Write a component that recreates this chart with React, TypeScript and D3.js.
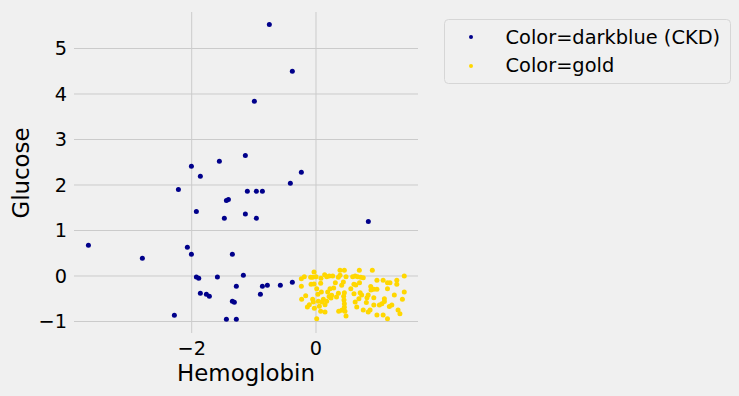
import React from "react";
import * as d3 from "d3";

const xTicks = [-2, 0];
const yTicks = [-1, 0, 1, 2, 3, 4, 5];
const xLabel = "Hemoglobin";
const yLabel = "Glucose";
const legendLabels = ["Color=darkblue (CKD)", "Color=gold"];

// CKD (darkblue) points: [hemoglobin, glucose]
const ckdPoints: [number, number][] = [
  [-0.751, 5.53], [-0.381, 4.5], [-0.992, 3.84], [-1.137, 2.65], [-1.555, 2.52],
  [-2.005, 2.41], [-1.861, 2.19], [-0.236, 2.28], [-0.413, 2.04], [-2.214, 1.9],
  [-1.105, 1.86], [-0.96, 1.86], [-0.863, 1.86], [-1.442, 1.66], [-1.41, 1.68],
  [-1.925, 1.42], [-1.475, 1.27], [-1.137, 1.36], [-0.96, 1.27], [0.842, 1.2],
  [-3.662, 0.674], [-2.794, 0.388], [-2.07, 0.63], [-2.005, 0.476], [-1.346, 0.476],
  [-1.925, -0.022], [-1.887, -0.051], [-1.587, -0.022], [-1.169, 0.015], [-1.282, -0.227],
  [-0.863, -0.227], [-0.783, -0.205], [-0.574, -0.205], [-0.381, -0.139], [-1.861, -0.381],
  [-1.764, -0.403], [-1.716, -0.447], [-0.895, -0.403], [-1.346, -0.557], [-1.314, -0.579],
  [-2.279, -0.864], [-1.442, -0.952], [-1.282, -0.952],
];

// non-CKD (gold) points: [hemoglobin, glucose]
const goldPoints: [number, number][] = [
  [-0.188, -0.015], [-0.236, -0.059], [-0.236, -0.227], [-0.166, -0.432], [-0.231, -0.513],
  [-0.032, 0.088], [-0.086, -0.029], [-0.054, -0.029], [0.0, -0.015], [-0.08, -0.183],
  [-0.032, -0.176], [0.075, -0.161], [0.011, -0.278], [0.139, 0.029], [0.172, -0.015],
  [0.214, 0.0], [0.268, 0.0], [0.386, 0.125], [0.456, 0.125], [0.386, 0.015],
  [0.359, -0.029], [0.483, -0.015], [0.311, -0.147], [0.413, -0.205], [0.44, -0.132],
  [0.086, -0.352], [0.188, -0.352], [0.225, -0.278], [0.284, -0.264], [0.252, -0.425],
  [0.241, -0.484], [0.456, -0.366], [0.445, -0.447], [0.45, -0.527], [0.456, -0.608],
  [0.456, -0.689], [0.466, -0.777], [0.365, -0.777], [0.413, -0.755], [0.483, -0.879],
  [0.011, -0.938], [-0.054, -0.513], [-0.043, -0.571], [-0.107, -0.63], [-0.139, -0.681],
  [0.038, -0.557], [0.097, -0.571], [0.118, -0.513], [0.172, -0.557], [0.145, -0.63],
  [0.075, -0.777], [0.145, -0.791], [0.054, -0.667], [-0.027, -0.71], [0.36, -0.38],
  [0.21, -0.45], [0.03, -0.4], [0.08, -0.05], [0.33, -0.46],
  [0.59, -0.015], [0.63, 0.0], [0.67, -0.015], [0.72, -0.03], [0.76, -0.04],
  [0.697, 0.125], [0.906, 0.125], [0.56, -0.28], [0.61, -0.18], [0.64, -0.2],
  [0.7, -0.15], [0.98, -0.095], [1.08, -0.095], [1.15, -0.15], [1.19, -0.15],
  [1.3, -0.095], [1.3, -0.18], [1.42, 0.0], [0.88, -0.23], [0.885, -0.31],
  [0.93, -0.29], [0.98, -0.29], [1.15, -0.28], [1.42, -0.35], [1.26, -0.42],
  [1.39, -0.51], [0.71, -0.37], [0.735, -0.42], [0.69, -0.5], [0.82, -0.48],
  [0.84, -0.42], [0.93, -0.48], [0.93, -0.64], [1.1, -0.5], [1.1, -0.56],
  [1.06, -0.61], [1.02, -0.64], [1.18, -0.67], [1.22, -0.64], [0.63, -0.57],
  [0.655, -0.68], [0.81, -0.58], [0.76, -0.75], [0.84, -0.79], [0.87, -0.75],
  [0.98, -0.86], [1.08, -0.86], [1.15, -0.94], [1.32, -0.75], [1.35, -0.83],
  [0.611, -0.388],
];

const W = 739;
const H = 396;
const left = 74, right = 418, top = 12, bottom = 330;
const font = "DejaVu Sans, sans-serif";
const fmt = (v: number) => (v < 0 ? "\u2212" + Math.abs(v) : String(v));

export default function App() {
  const x = d3.scaleLinear().domain([-3.894, 1.641]).range([left, right]);
  const y = d3.scaleLinear().domain([-1.187, 5.802]).range([bottom, top]);
  const r = 2.5;
  return (
    <svg width={W} height={H} style={{ position: "absolute", left: 0, top: 0, background: "#f0f0f0" }}>
      <rect x={0} y={0} width={W} height={H} fill="#f0f0f0" />
      {yTicks.map((t) => (
        <line key={"gy" + t} x1={left} x2={right} y1={y(t)} y2={y(t)} stroke="#cbcbcb" strokeWidth={1} />
      ))}
      {xTicks.map((t) => (
        <line key={"gx" + t} x1={x(t)} x2={x(t)} y1={top} y2={bottom + 3} stroke="#cbcbcb" strokeWidth={1} />
      ))}
      {yTicks.map((t) => (
        <text key={"ty" + t} x={67} y={y(t) + 7} textAnchor="end" fontFamily={font} fontSize={19.3} fill="#000">
          {fmt(t)}
        </text>
      ))}
      {xTicks.map((t) => (
        <text key={"tx" + t} x={x(t)} y={355} textAnchor="middle" fontFamily={font} fontSize={19.3} fill="#000">
          {fmt(t)}
        </text>
      ))}
      <text x={(left + right) / 2} y={381} textAnchor="middle" fontFamily={font} fontSize={22.9} fill="#000">
        {xLabel}
      </text>
      <text
        transform={`translate(29, ${(top + bottom) / 2 + 2}) rotate(-90)`}
        textAnchor="middle"
        fontFamily={font}
        fontSize={22.9}
        fill="#000"
      >
        {yLabel}
      </text>
      {ckdPoints.map((p, i) => (
        <circle key={"b" + i} cx={x(p[0])} cy={y(p[1])} r={r} fill="#00008b" />
      ))}
      {goldPoints.map((p, i) => (
        <circle key={"g" + i} cx={x(p[0])} cy={y(p[1])} r={r} fill="#ffd700" />
      ))}
      <rect x={444.5} y={19.5} width={286} height={64} rx={4} fill="#f0f0f0" stroke="#d6d6d6" strokeWidth={1} />
      {legendLabels.map((lab, i) => (
        <g key={"l" + i}>
          <circle cx={471} cy={37 + i * 29} r={2} fill={i === 0 ? "#00008b" : "#ffd700"} />
          <text x={505.5} y={43.5 + i * 28.5} fontFamily={font} fontSize={19.4} fill="#000">
            {lab}
          </text>
        </g>
      ))}
    </svg>
  );
}
